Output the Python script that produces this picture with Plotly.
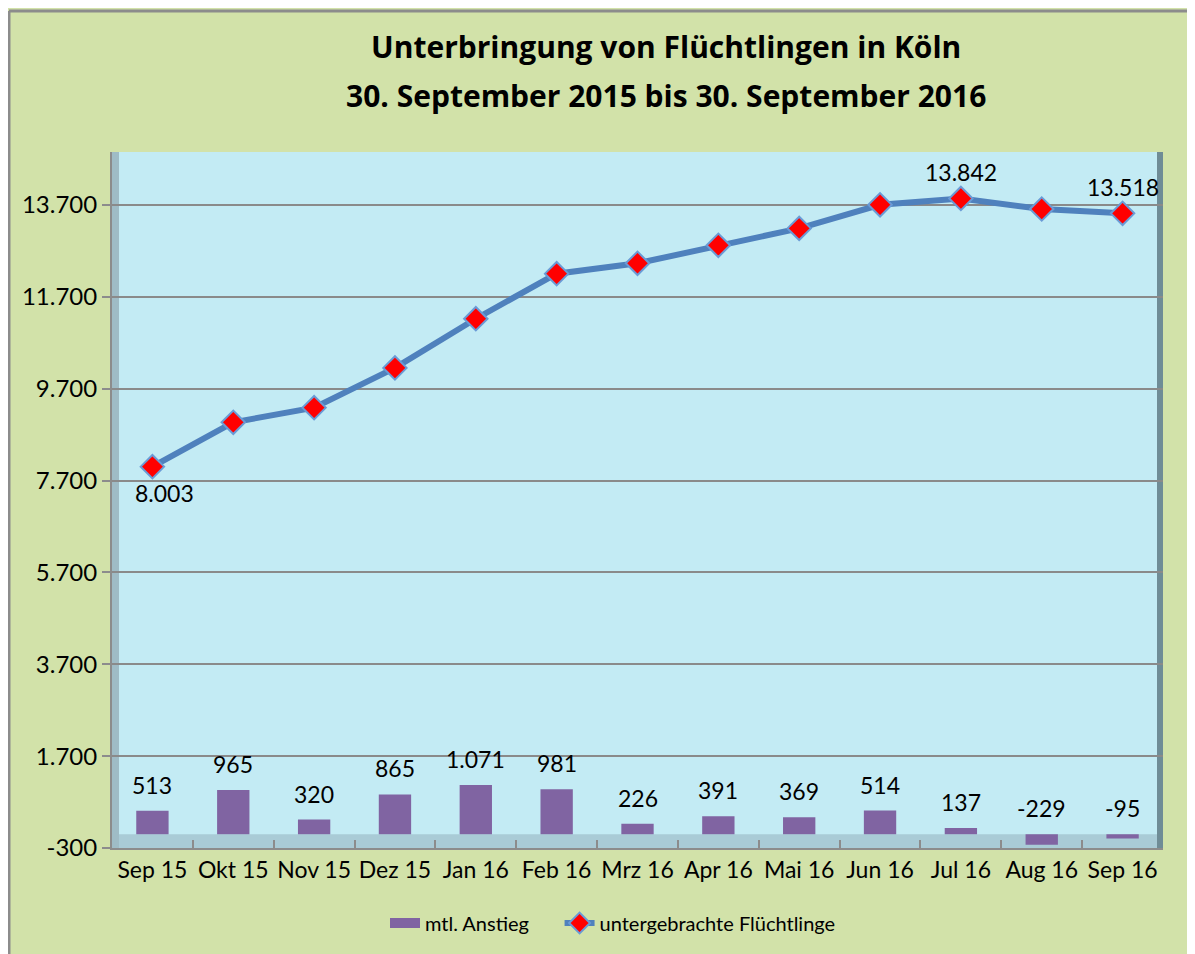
import plotly.graph_objects as go

months = ["Sep 15", "Okt 15", "Nov 15", "Dez 15", "Jan 16", "Feb 16", "Mrz 16",
          "Apr 16", "Mai 16", "Jun 16", "Jul 16", "Aug 16", "Sep 16"]
anstieg = [513, 965, 320, 865, 1071, 981, 226, 391, 369, 514, 137, -229, -95]
fluechtlinge = [8003, 8968, 9288, 10153, 11224, 12205, 12431, 12822, 13191, 13705, 13842, 13613, 13518]
line_label_pos = ["below", "", "", "", "", "", "", "", "", "", "above", "", "above"]
y_ticks = [-300, 1700, 3700, 5700, 7700, 9700, 11700, 13700]

def de(n):
    s = f"{abs(n):,}".replace(",", ".")
    return ("-" if n < 0 else "") + s

FONT = "Lato"
W, H = 1195, 954
OFF = 8  # page body margin
L, T = 112 - OFF, 152 - OFF
R = W - (1163 - OFF)
B = H - (848 - OFF)
pw, ph = W - L - R, H - T - B

def px_x(p):
    return (p - OFF - L) / pw

def px_y(p):
    return (H - B - (p - OFF)) / ph

BAR_COLOR = "#8064a2"

fig = go.Figure()
fig.add_trace(go.Bar(
    x=months, y=anstieg, name="mtl. Anstieg", showlegend=False,
    marker=dict(color=BAR_COLOR, line=dict(width=0)), width=0.4,
))
# legend entry for bars (wide rectangle swatch like the original)
fig.add_trace(go.Scatter(
    x=[None], y=[None], mode="lines", name="mtl. Anstieg&nbsp;&nbsp;&nbsp;&nbsp;&nbsp;",
    line=dict(color=BAR_COLOR, width=14),
))
fig.add_trace(go.Scatter(
    x=months, y=fluechtlinge, name="untergebrachte Flüchtlinge",
    mode="lines+markers",
    line=dict(color="#4f81bd", width=6),
    marker=dict(symbol="diamond", size=18, color="#ff0000", line=dict(color="#6a9bd6", width=2)),
))

# line data labels
for m, v, pos in zip(months, fluechtlinge, line_label_pos):
    if not pos:
        continue
    fig.add_annotation(x=m, y=v, text=de(v), showarrow=False,
                       yshift=26 if pos == "above" else -26,
                       xshift=12 if pos == "below" else 0, yanchor="middle",
                       font=dict(family=FONT, size=23, color="#000000"))

# bar data labels
for m, v in zip(months, anstieg):
    fig.add_annotation(x=m, y=max(v, 0), text=de(v), showarrow=False,
                       yshift=26, yanchor="middle",
                       font=dict(family=FONT, size=23, color="#000000"))

# title
TFONT = "Open Sans"
fig.add_annotation(xref="paper", yref="paper", x=px_x(666), y=px_y(47),
                   text="<b>Unterbringung von Flüchtlingen in Köln</b>",
                   showarrow=False, xanchor="center", yanchor="middle",
                   font=dict(family=TFONT, size=30, color="#000000"))
fig.add_annotation(xref="paper", yref="paper", x=px_x(666), y=px_y(95),
                   text="<b>30. September 2015 bis 30. September 2016</b>",
                   showarrow=False, xanchor="center", yanchor="middle",
                   font=dict(family=TFONT, size=30, color="#000000"))

# outer border (top and left visible)
fig.add_shape(type="line", xref="paper", yref="paper",
              x0=px_x(9), x1=px_x(1300), y0=px_y(11), y1=px_y(11),
              line=dict(color="#8c8c8c", width=3), layer="below")
fig.add_shape(type="line", xref="paper", yref="paper",
              x0=px_x(9), x1=px_x(9), y0=px_y(11), y1=px_y(1100),
              line=dict(color="#8c8c8c", width=3), layer="below")
# 3D floor band
fig.add_shape(type="rect", xref="paper", yref="y", x0=0, x1=1, y0=-300, y1=0,
              line=dict(width=0), fillcolor="#a9cbd6", layer="below")
# left wall & right edge shading
fig.add_shape(type="rect", xref="paper", yref="paper", x0=0, x1=px_x(119), y0=0, y1=1,
              line=dict(width=0), fillcolor="#9fbcc6", layer="below")
fig.add_shape(type="rect", xref="paper", yref="paper", x0=px_x(1157), x1=1, y0=0, y1=1,
              line=dict(width=0), fillcolor="#6f8c96", layer="below")

fig.update_layout(
    width=W, height=H,
    margin=dict(l=L, r=R, t=T, b=B, autoexpand=False),
    paper_bgcolor="#d2e2a9",
    plot_bgcolor="#c3ebf4",
    font=dict(family=FONT, size=23, color="#000000"),
    showlegend=True,
    legend=dict(orientation="h", x=px_x(613), xanchor="center", y=px_y(923), yanchor="middle",
                font=dict(family=FONT, size=20), bgcolor="rgba(0,0,0,0)"),
    bargap=0.6,
)
fig.update_xaxes(
    type="category", range=[-0.5, 12.5], tickangle=0, automargin=False,
    showgrid=False, ticks="inside", tickson="boundaries", ticklen=8,
    tickcolor="#8c8c8c", tickwidth=2,
    showline=True, linecolor="#8c8c8c", linewidth=2,
    tickfont=dict(family=FONT, size=23), fixedrange=True,
)
fig.update_yaxes(
    range=[-300, 14854], tickvals=y_ticks, ticktext=[de(v) for v in y_ticks],
    automargin=False,
    showgrid=True, gridcolor="#8a8a8a", gridwidth=2, zeroline=False,
    ticks="outside", ticklen=8, tickcolor="#8c8c8c", tickwidth=2,
    showline=True, linecolor="#8c8c8c", linewidth=2,
    tickfont=dict(family=FONT, size=24),
)

fig.write_html("out.html")
